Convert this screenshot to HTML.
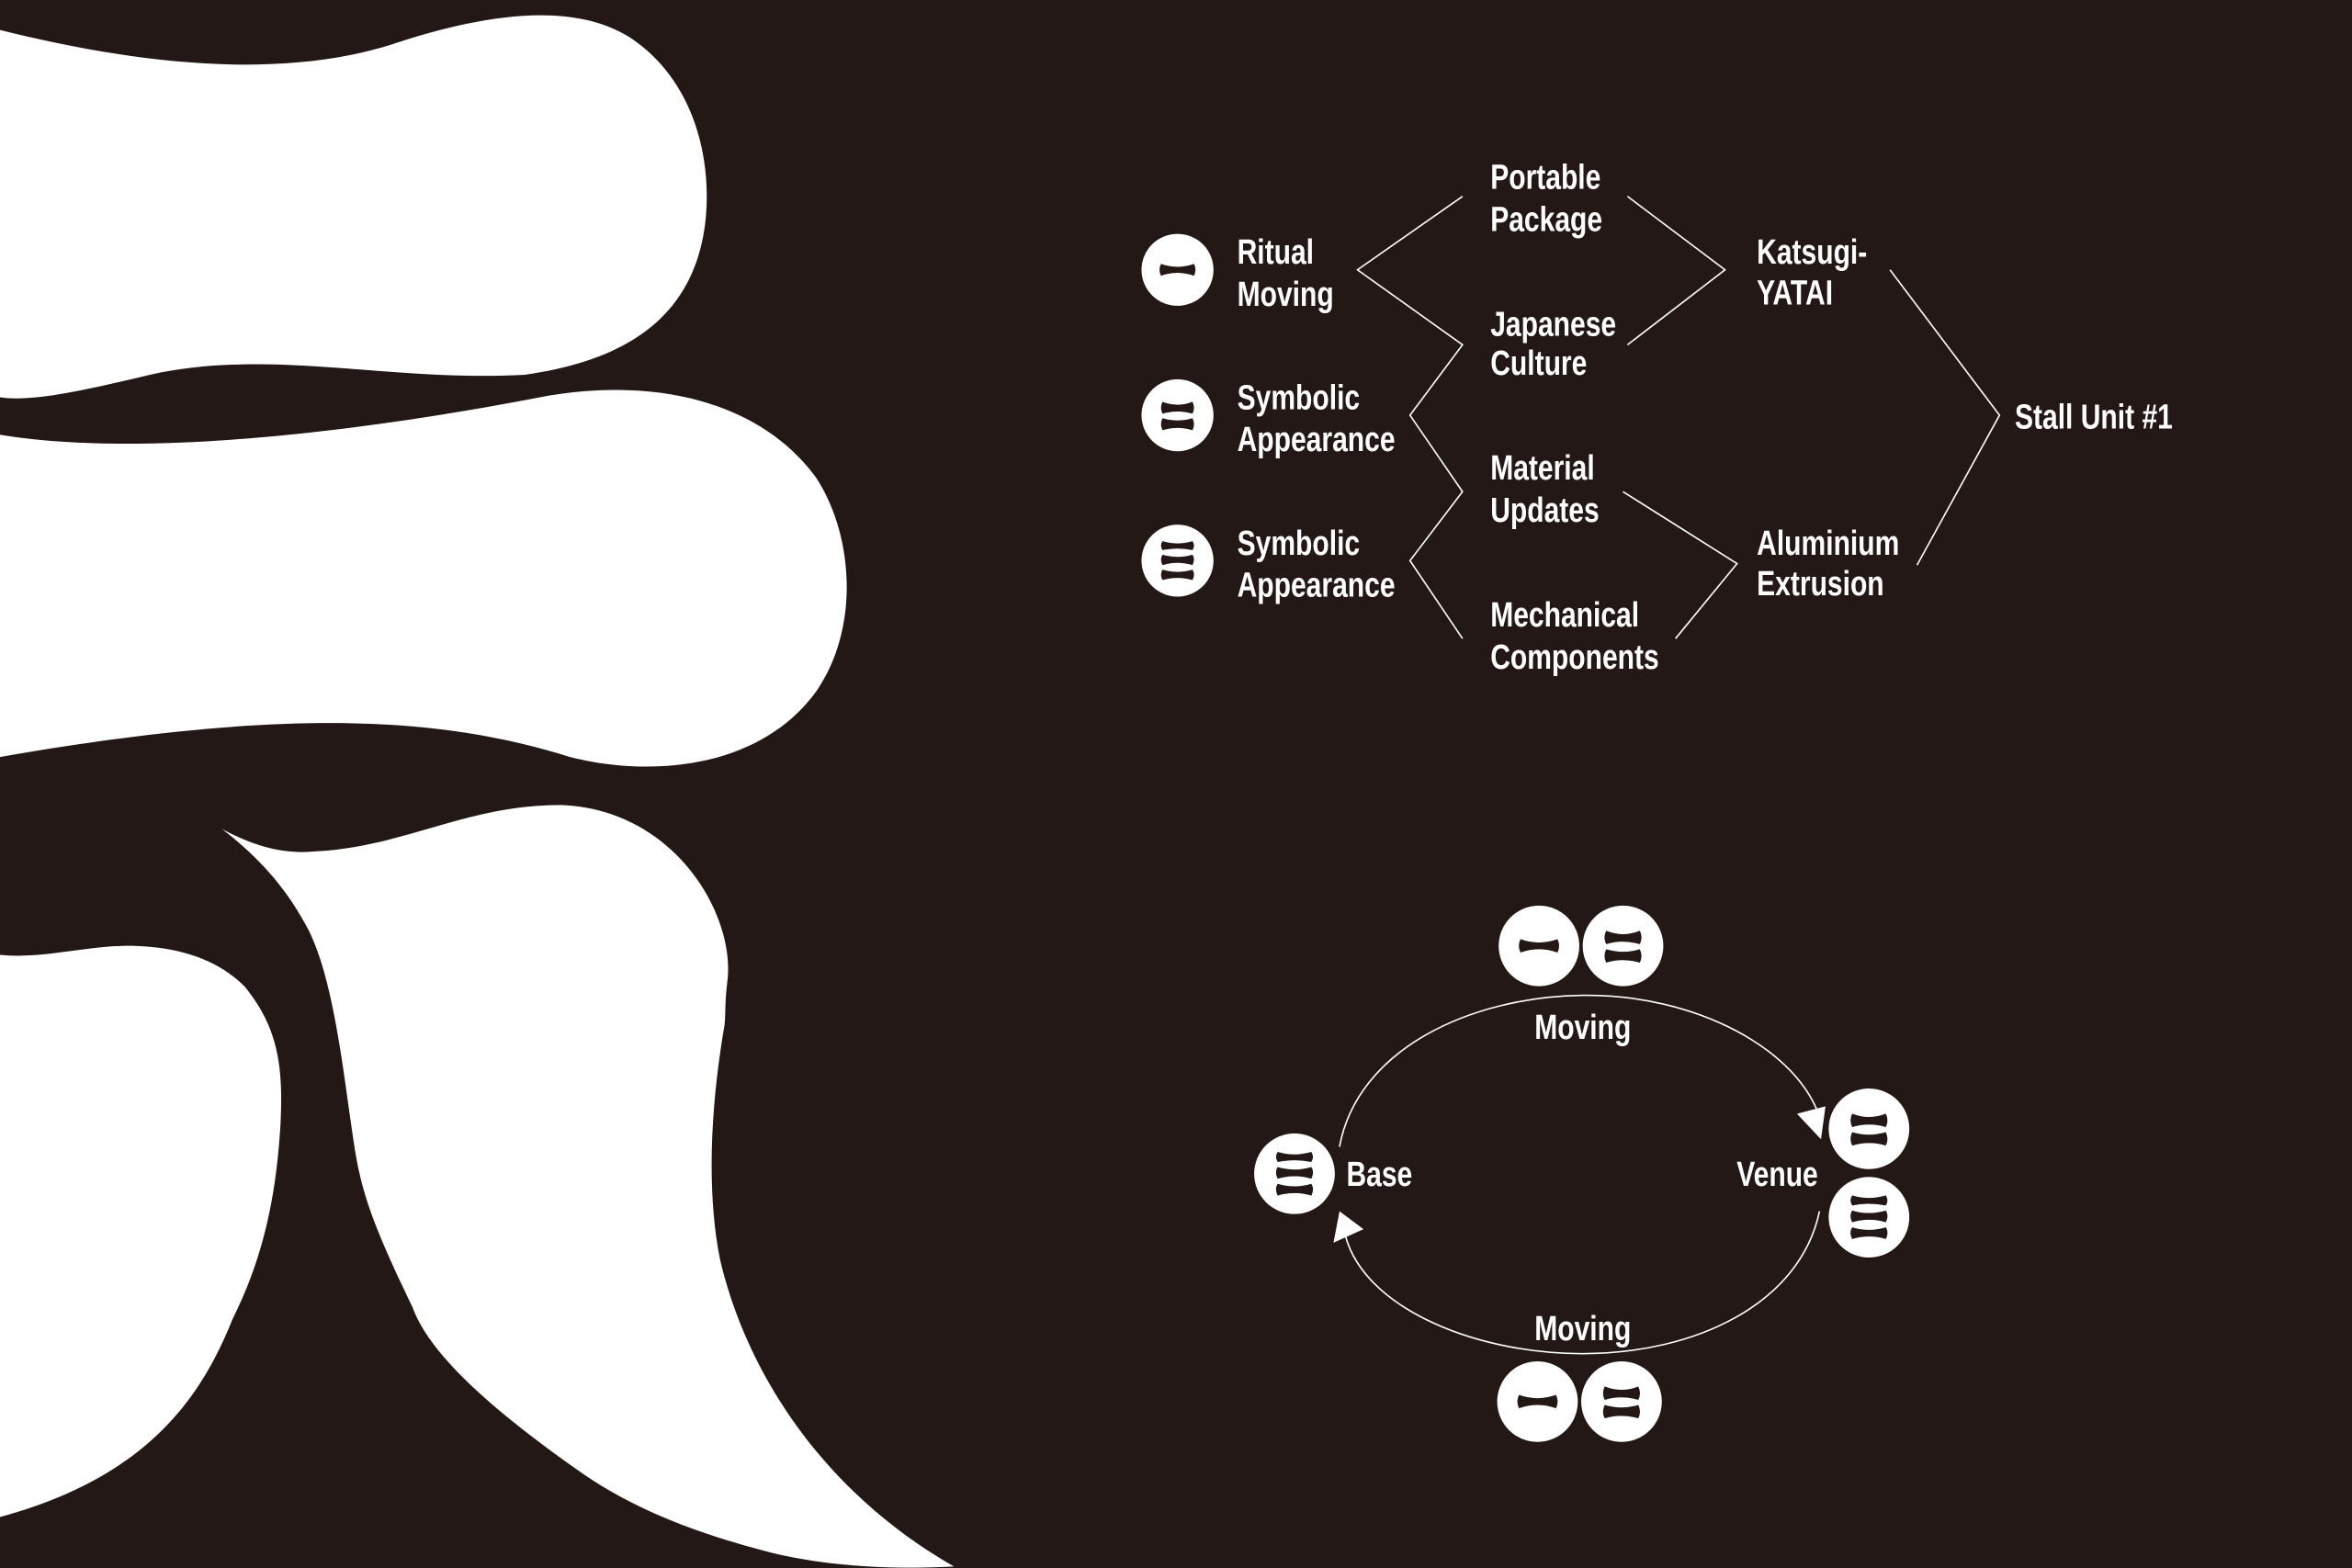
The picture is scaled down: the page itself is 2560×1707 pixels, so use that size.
<!DOCTYPE html>
<html><head><meta charset="utf-8"><style>
html,body{margin:0;padding:0;background:#231816;}
svg{display:block}
text{font-family:"Liberation Sans",sans-serif;font-weight:bold;fill:#fff;font-size:23px;}
</style></head><body>
<svg width="2560" height="1707" viewBox="0 0 1568 1046" preserveAspectRatio="none" xmlns="http://www.w3.org/2000/svg">
<defs>
<g id="i1"><circle r="24" fill="#fff"/><path d="M-11,-4 Q0,0 11,-4 Q13,0 11,4 Q0,0 -11,4 Q-13,0 -11,-4Z" fill="#231816"/></g>
<g id="i2"><circle r="24" fill="#fff"/><path d="M-10,-9 Q0,-5 10,-9 Q12,-5 10,-1 Q0,-4 -10,-1 Q-12,-5 -10,-9Z M-10,2 Q0,5 10,2 Q12,6 10,10 Q0,7 -10,10 Q-12,6 -10,2Z" fill="#231816"/></g>
<g id="i3"><circle r="24" fill="#fff"/><path d="M-10,-13 Q0,-10 10,-13 Q12,-10 10,-7 Q0,-9 -10,-7 Q-12,-10 -10,-13Z M-10,-4 Q0,-1 10,-4 Q12,-1 10,3 Q0,0 -10,3 Q-12,-1 -10,-4Z M-10,6 Q0,9 10,6 Q12,9 10,13 Q0,10 -10,13 Q-12,9 -10,6Z" fill="#231816"/></g>
</defs>
<rect width="1568" height="1046" fill="#231816"/>
<path d="M0,20 C80,40 180,55 260,30 C320,10 380,0 420,25 C465,55 475,110 470,150 C462,210 420,240 350,250 C260,255 180,232 100,250 C50,262 20,268 0,265Z" fill="#fff"/>
<path d="M0,290 C90,305 230,290 360,265 C440,250 510,270 545,320 C570,360 572,420 545,460 C510,510 440,520 380,505 C300,480 200,470 0,505Z" fill="#fff"/>
<path d="M0,637 C30,640 60,630 90,631 C120,632 145,640 163,658 C185,685 189,710 187,750 C184,800 175,840 155,880 C135,930 100,985 0,1012Z" fill="#fff"/>
<path d="M148,553 C170,565 190,570 210,568 C270,565 310,537 374,537 C450,540 490,610 485,654 C483,670 484,675 483,684 C475,730 470,790 480,840 C495,905 540,990 636,1045 C580,1048 540,1042 515,1036 C460,1022 420,1005 387,982 C320,935 285,900 275,872 C250,820 243,800 238,775 C230,730 225,660 206,621 C190,590 170,570 148,553Z" fill="#fff"/>
<g stroke="#fff" stroke-width="1" fill="none">
<polyline points="975,131 905,180 975,230 940,277 975,328 940,374 975,426"/>
<polyline points="1085,131 1150,180 1085,230"/>
<polyline points="1082,328 1158,376 1117,426"/>
<polyline points="1260,180 1333,277 1278,377"/>
</g>
<use href="#i1" x="785" y="180"/>
<use href="#i2" x="785" y="277"/>
<use href="#i3" x="785" y="374"/>
<g transform="scale(0.8,1)">
<text x="1031" y="176">Ritual</text><text x="1031" y="204">Moving</text>
<text x="1031" y="273">Symbolic</text><text x="1031" y="301">Appearance</text>
<text x="1031" y="370">Symbolic</text><text x="1031" y="398">Appearance</text>
<text x="1242" y="126">Portable</text><text x="1242" y="154">Package</text>
<text x="1242" y="224">Japanese</text><text x="1242" y="250">Culture</text>
<text x="1242" y="320">Material</text><text x="1242" y="348">Updates</text>
<text x="1242" y="418">Mechanical</text><text x="1242" y="446">Components</text>
<text x="1464" y="176">Katsugi-</text><text x="1464" y="203">YATAI</text>
<text x="1464" y="370">Aluminium</text><text x="1464" y="397">Extrusion</text>
<text x="1679" y="286">Stall Unit #1</text>
<text x="1319" y="693" text-anchor="middle">Moving</text>
<text x="1319" y="894" text-anchor="middle">Moving</text>
<text x="1122" y="791">Base</text>
<text x="1515" y="791" text-anchor="end">Venue</text>
</g>
<g stroke="#fff" stroke-width="1" fill="none">
<path d="M893,765 C905,700 980,665 1055,664 C1130,663 1200,700 1214,748"/>
<path d="M1213,808 C1200,870 1130,903 1055,903 C980,903 905,870 896,820"/>
</g>
<polygon points="1198,743 1217,738 1214,760" fill="#fff"/>
<polygon points="889,829 893,808 909,820" fill="#fff"/>
<use href="#i1" transform="translate(1026,631) scale(1.12)"/>
<use href="#i2" transform="translate(1082,631) scale(1.12)"/>
<use href="#i1" transform="translate(1025,935) scale(1.12)"/>
<use href="#i2" transform="translate(1081,935) scale(1.12)"/>
<use href="#i3" transform="translate(863,783) scale(1.12)"/>
<use href="#i2" transform="translate(1246,753) scale(1.12)"/>
<use href="#i3" transform="translate(1246,812) scale(1.12)"/>
</svg>
</body></html>
